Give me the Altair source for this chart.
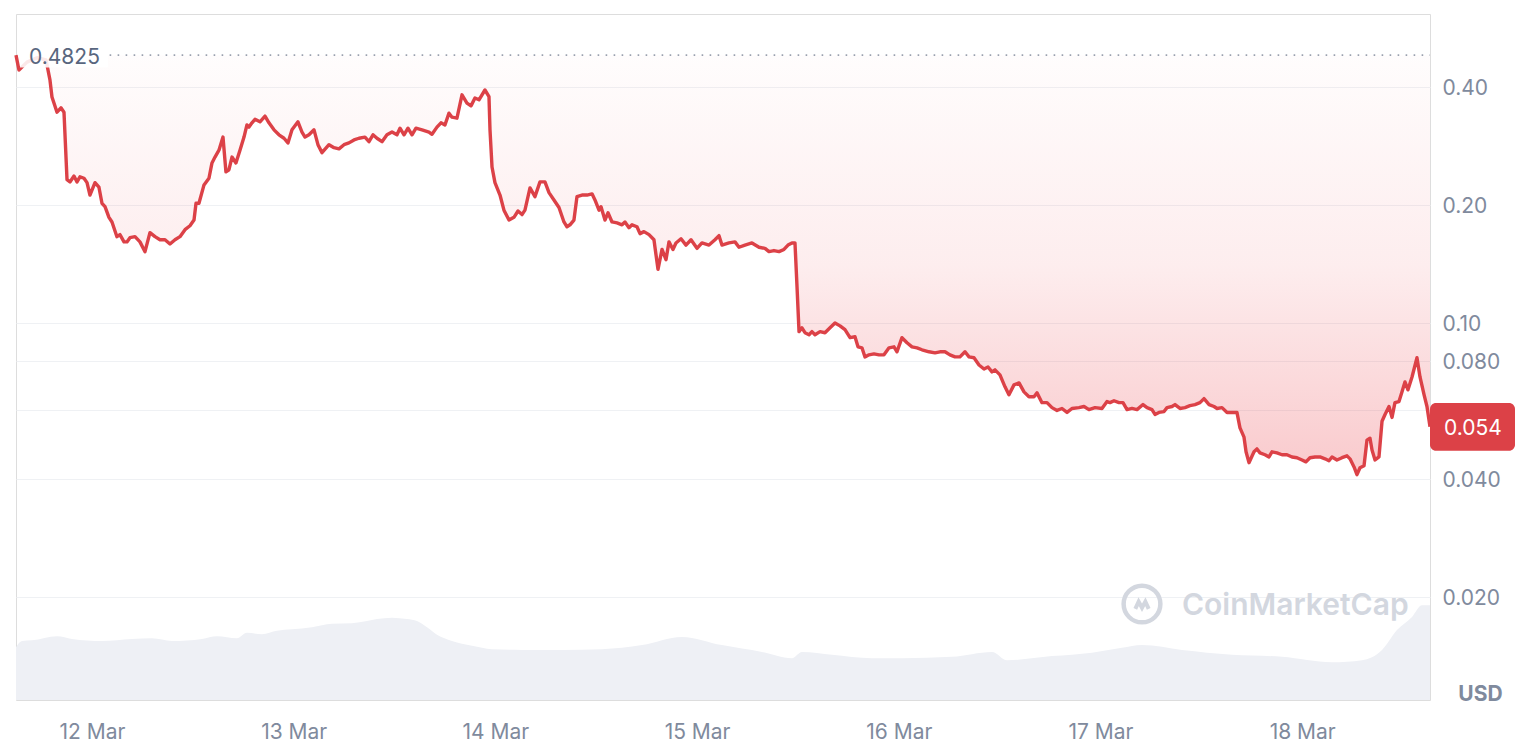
import altair as alt
import pandas as pd

# ---- data ----
# hours after 12 Mar 00:00 and price in USD
PRICE_HOURS = [
    -9.04, -8.69, -7.73, -6.54, -5.47, -5.0, -4.76, -4.16, -3.69, -3.33, -2.97, -2.62, -2.14, -1.78, -1.43,
    -0.95, -0.59, -0.24, 0.36, 0.83, 1.19, 1.55, 2.02, 2.38, 2.97, 3.33, 3.81, 4.16, 4.52, 5.12,
    5.71, 6.31, 6.90, 7.50, 8.09, 8.69, 9.28, 9.88, 10.47, 11.07, 11.66, 12.14, 12.38, 12.73, 13.33,
    13.92, 14.28, 14.64, 15.11, 15.59, 15.94, 16.30, 16.66, 17.13, 17.61, 18.09, 18.44, 18.68, 19.04, 19.40,
    19.99, 20.59, 21.06, 21.66, 22.25, 22.85, 23.32, 23.80, 24.51, 24.99, 25.35, 25.82, 26.42, 26.89, 27.37,
    28.20, 28.80, 29.39, 29.99, 30.58, 31.18, 31.77, 32.48, 32.96, 33.44, 33.91, 34.51, 35.10, 35.70, 36.29,
    36.65, 37.13, 37.60, 38.08, 38.55, 39.27, 40.10, 40.46, 41.05, 41.53, 42.00, 42.48, 42.84, 43.43, 44.03,
    44.62, 45.10, 45.57, 46.05, 46.76, 47.24, 47.36, 47.60, 47.95, 48.55, 49.02, 49.62, 50.21, 50.69, 51.17,
    51.52, 52.12, 52.71, 53.31, 53.90, 54.38, 54.97, 55.57, 56.16, 56.52, 56.88, 57.35, 57.71, 58.31, 58.90,
    59.50, 59.85, 60.33, 60.57, 61.04, 61.40, 61.88, 62.47, 63.07, 63.42, 63.90, 64.26, 64.85, 65.21, 65.68,
    66.28, 66.87, 66.99, 67.35, 67.83, 68.30, 68.66, 69.13, 69.49, 70.09, 70.68, 71.28, 71.99, 72.58, 73.42,
    74.13, 74.61, 74.96, 75.80, 76.51, 76.99, 77.70, 78.53, 79.37, 80.08, 80.56, 81.15, 81.75, 82.34, 82.82,
    83.29, 83.65, 83.89, 84.13, 84.48, 84.84, 85.32, 85.67, 86.03, 86.63, 87.22, 87.82, 88.41, 89.01, 89.60,
    90.20, 90.79, 91.15, 91.62, 91.98, 92.46, 93.05, 93.65, 94.24, 94.84, 95.43, 95.79, 96.38, 96.98, 97.57,
    98.17, 98.76, 99.60, 100.31, 100.90, 101.50, 102.09, 102.69, 103.28, 103.88, 104.36, 104.95, 105.55, 106.14, 106.62,
    107.09, 107.45, 108.04, 108.64, 109.11, 109.71, 110.31, 110.90, 111.49, 112.09, 112.45, 113.04, 113.64, 114.23, 114.83,
    115.42, 116.02, 116.61, 117.44, 118.04, 118.63, 119.35, 120.18, 120.78, 121.13, 121.61, 122.20, 122.68, 123.16, 123.75,
    124.35, 125.06, 125.54, 126.13, 126.49, 126.96, 127.56, 127.92, 128.51, 128.87, 129.46, 130.06, 130.65, 131.25, 131.84,
    132.32, 132.92, 133.51, 133.87, 134.46, 135.06, 135.65, 136.24, 136.60, 137.08, 137.32, 137.67, 138.27, 138.62, 138.98,
    139.58, 140.05, 140.41, 141.00, 141.60, 142.19, 142.79, 143.38, 143.98, 144.45, 144.93, 145.53, 146.12, 146.72, 147.19,
    147.55, 148.14, 148.74, 149.33, 149.69, 150.17, 150.52, 150.88, 151.36, 151.71, 152.07, 152.31, 152.67, 153.14, 153.50,
    153.86, 154.33, 154.69, 155.04, 155.52, 155.88, 156.23, 156.59, 157.07, 157.66, 158.02, 158.50, 158.85, 159.21,
]
PRICE_USD = [
    0.4825, 0.442, 0.463, 0.475, 0.469, 0.417, 0.377, 0.345, 0.354, 0.345, 0.232, 0.229, 0.237, 0.229, 0.236,
    0.234, 0.228, 0.212, 0.228, 0.222, 0.202, 0.198, 0.186, 0.181, 0.166, 0.168, 0.161, 0.161, 0.165, 0.166,
    0.161, 0.152, 0.170, 0.166, 0.163, 0.163, 0.159, 0.163, 0.166, 0.173, 0.177, 0.183, 0.202, 0.202, 0.225,
    0.234, 0.256, 0.265, 0.276, 0.298, 0.243, 0.246, 0.265, 0.256, 0.276, 0.298, 0.320, 0.316, 0.324, 0.331,
    0.326, 0.337, 0.324, 0.311, 0.302, 0.296, 0.288, 0.311, 0.326, 0.307, 0.298, 0.302, 0.311, 0.285, 0.272,
    0.285, 0.280, 0.278, 0.285, 0.288, 0.293, 0.296, 0.298, 0.290, 0.302, 0.296, 0.290, 0.302, 0.307, 0.302,
    0.314, 0.302, 0.314, 0.302, 0.314, 0.311, 0.307, 0.303, 0.316, 0.324, 0.320, 0.343, 0.335, 0.333, 0.382,
    0.364, 0.358, 0.375, 0.371, 0.393, 0.378, 0.311, 0.250, 0.228, 0.212, 0.194, 0.183, 0.186, 0.193, 0.189,
    0.194, 0.221, 0.210, 0.229, 0.229, 0.215, 0.206, 0.197, 0.181, 0.176, 0.178, 0.183, 0.210, 0.212, 0.212,
    0.2135, 0.206, 0.194, 0.198, 0.183, 0.191, 0.181, 0.180, 0.178, 0.181, 0.175, 0.178, 0.176, 0.169, 0.171,
    0.168, 0.163, 0.156, 0.137, 0.154, 0.145, 0.161, 0.154, 0.160, 0.164, 0.158, 0.163, 0.155, 0.160, 0.158,
    0.163, 0.167, 0.158, 0.160, 0.161, 0.156, 0.158, 0.160, 0.156, 0.155, 0.152, 0.153, 0.152, 0.154, 0.158,
    0.160, 0.160, 0.124, 0.0950, 0.0972, 0.0944, 0.0933, 0.0950, 0.0933, 0.0950, 0.0944, 0.0972, 0.100, 0.0983, 0.0961,
    0.0917, 0.0922, 0.0869, 0.0864, 0.0819, 0.0829, 0.0834, 0.0829, 0.0829, 0.0864, 0.0869, 0.0844, 0.0917, 0.0890, 0.0869,
    0.0864, 0.0854, 0.0844, 0.0839, 0.0844, 0.0844, 0.0829, 0.0819, 0.0819, 0.0844, 0.0819, 0.0815, 0.0781, 0.0763, 0.0772,
    0.0750, 0.0759, 0.0737, 0.0687, 0.0656, 0.0695, 0.0703, 0.0667, 0.0648, 0.0648, 0.0663, 0.0626, 0.0626, 0.0608, 0.0598,
    0.0605, 0.0591, 0.0605, 0.0608, 0.0612, 0.0601, 0.0608, 0.0605, 0.0630, 0.0626, 0.0633, 0.0626, 0.0626, 0.0601, 0.0605,
    0.0601, 0.0619, 0.0608, 0.0601, 0.0584, 0.0591, 0.0594, 0.0608, 0.0612, 0.0619, 0.0605, 0.0608, 0.0615, 0.0619, 0.0626,
    0.0641, 0.0619, 0.0612, 0.0605, 0.0608, 0.0591, 0.0591, 0.0591, 0.0540, 0.0511, 0.0469, 0.0440, 0.0469, 0.0477, 0.0466,
    0.0461, 0.0455, 0.0469, 0.0466, 0.0461, 0.0461, 0.0455, 0.0453, 0.0447, 0.0442, 0.0453, 0.0455, 0.0455, 0.0450, 0.0445,
    0.0455, 0.0447, 0.0453, 0.0458, 0.0450, 0.0429, 0.0410, 0.0427, 0.0432, 0.0502, 0.0508, 0.0474, 0.0447, 0.0455, 0.0561,
    0.0584, 0.0612, 0.0574, 0.0626, 0.0630, 0.0667, 0.0707, 0.0675, 0.0728, 0.0815, 0.0728, 0.0656, 0.0612, 0.0543,
]
# 24h volume (million USD) at hours after 12 Mar 00:00
VOL_HOURS = [
    -9.04, -8.33, -7.14, -4.16, -2.38, 1.19, 4.76, 7.14, 9.52, 13.09, 14.87, 17.25, 18.44, 20.23, 22.01,
    23.80, 26.18, 28.56, 30.94, 32.72, 33.91, 35.70, 37.48, 38.67, 39.86, 41.05, 42.84, 45.22, 47.60, 51.17,
    55.93, 60.69, 65.45, 70.20, 74.96, 79.72, 83.29, 84.48, 88.05, 92.81, 96.38, 102.33, 107.09, 108.88, 114.23,
    118.99, 122.56, 124.94, 129.70, 135.65, 141.60, 147.55, 151.12, 153.50, 155.28, 157.07, 158.26, 159.21,
]
VOL_MUSD = [
    7.7, 8.6, 8.7, 9.3, 8.9, 8.6, 8.9, 9.0, 8.6, 8.9, 9.3, 9.0, 9.8, 9.6, 10.1,
    10.3, 10.6, 11.1, 11.2, 11.5, 11.8, 12.0, 11.8, 11.5, 10.6, 9.5, 8.6, 7.9, 7.4, 7.3,
    7.3, 7.4, 8.0, 9.2, 8.0, 7.0, 6.1, 7.0, 6.6, 6.1, 6.1, 6.3, 7.0, 5.8, 6.4,
    6.9, 7.6, 8.0, 7.3, 6.6, 6.3, 5.5, 5.8, 7.3, 10.2, 12.1, 13.8, 13.8,
]
OPEN_PRICE = 0.4825
Y_TICKS = [0.02, 0.04, 0.06, 0.08, 0.1, 0.2, 0.4]
X_DAYS = [12, 13, 14, 15, 16, 17, 18]
WATERMARK = "CoinMarketCap"
UNIT = "USD"

RED = "#dc4147"
GRAY = "#808a9d"
FONT = "Inter"
FS = 21

base = pd.Timestamp("2024-03-12")


def ts(h):
    return (base + pd.to_timedelta(h, unit="h")).strftime("%Y-%m-%dT%H:%M:%S")


price_df = pd.DataFrame({
    "time": [ts(h) for h in PRICE_HOURS],
    "price": PRICE_USD,
    "open": OPEN_PRICE,
})
vol_df = pd.DataFrame({"time": [ts(h) for h in VOL_HOURS], "vol": VOL_MUSD})

last_price = PRICE_USD[-1]

x_scale = alt.Scale(nice=False)
y_scale = alt.Scale(type="log", domain=[0.01091, 0.6142], nice=False)

x_axis = alt.Axis(
    values=[alt.DateTime(year=2024, month=3, date=d) for d in X_DAYS],
    format="%-d %b", labelFontSize=FS, labelColor=GRAY, labelFont=FONT,
    labelPadding=21, domain=False, ticks=False, grid=False, labelFlush=False,
    title=None,
)
y_axis = alt.Axis(
    orient="right", values=Y_TICKS,
    labelExpr="datum.value >= 0.1 ? format(datum.value, '.2f') : (abs(datum.value - 0.06) < 0.001 ? '' : format(datum.value, '.3f'))",
    grid=True, gridColor="#eff1f4", gridWidth=1, domain=False, ticks=False,
    labelPadding=12, labelOffset=2, labelFontSize=FS, labelColor=GRAY, labelFont=FONT,
    title=UNIT, titleAngle=0, titleX=50, titleY=680, titleAlign="center",
    titleBaseline="middle", titleFontSize=FS, titleFontWeight=700,
    titleColor=GRAY, titleFont=FONT,
)


def X(field):
    return alt.X(field, type="temporal", scale=x_scale, axis=x_axis, title=None)


def Y(field):
    return alt.Y(field, type="quantitative", scale=y_scale, axis=y_axis, title=UNIT)


# volume (own scale)
volume = alt.Chart(vol_df).mark_area(color="#eef0f5", interpolate="monotone").encode(
    x=X("time"),
    y=alt.Y("vol:Q", scale=alt.Scale(domain=[0, 100]), axis=None),
)

gradient = alt.Gradient(
    gradient="linear",
    stops=[
        alt.GradientStop(color="rgba(234,57,67,0.01)", offset=0),
        alt.GradientStop(color="rgba(234,57,67,0.09)", offset=0.5),
        alt.GradientStop(color="rgba(234,57,67,0.27)", offset=1),
    ],
    x1=1, x2=1, y1=0, y2=1,
)

fill = alt.Chart(price_df).mark_area(color=gradient).encode(
    x=X("time"), y=Y("price"), y2="open:Q",
)

line = alt.Chart(price_df).mark_line(color=RED, strokeWidth=3.4, strokeJoin="round").encode(
    x=X("time"), y=Y("price"),
)

rule_df = pd.DataFrame({"t0": [ts(2.1)], "t1": [ts(PRICE_HOURS[-1])], "p": [OPEN_PRICE]})
open_rule = alt.Chart(rule_df).mark_rule(color="#9aa1af", strokeWidth=1.6, strokeDash=[1.6, 6.4]).encode(
    x=X("t0"), x2="t1:T", y=Y("p"),
)

lab_df = pd.DataFrame({"hi": [OPEN_PRICE * 1.075], "lo": [OPEN_PRICE / 1.075], "p": [OPEN_PRICE],
                       "txt": [f"{OPEN_PRICE:.4f}"]})
open_box = alt.Chart(lab_df).mark_rect(color="white", opacity=0.88).encode(
    x=alt.value(4), x2=alt.value(92), y=Y("hi"), y2="lo:Q",
)
open_text = alt.Chart(lab_df).mark_text(align="left", baseline="middle", fontSize=FS, dy=2.5,
                                          font=FONT, color="#58667e").encode(
    x=alt.value(13), y=Y("p"), text="txt:N",
)

cur_df = pd.DataFrame({"hi": [last_price * 1.151], "lo": [last_price / 1.151], "p": [last_price],
                       "txt": [f"{last_price:.3f}"]})
cur_box = alt.Chart(cur_df).mark_rect(color=RED, cornerRadius=6).encode(
    x=alt.value(1414), x2=alt.value(1499), y=Y("hi"), y2="lo:Q",
)
cur_text = alt.Chart(cur_df).mark_text(align="center", baseline="middle", fontSize=FS, dy=2,
                                         font=FONT, color="white").encode(
    x=alt.value(1457), y=Y("p"), text="txt:N",
)

wm_df = pd.DataFrame({"txt": [WATERMARK]})
wm_text = alt.Chart(wm_df).mark_text(align="left", baseline="middle", fontSize=30, fontWeight=600,
                                       font=FONT, color="#d3d7df").encode(
    x=alt.value(1166), y=alt.value(592), text="txt:N",
)
wm_ring = alt.Chart(wm_df).mark_point(shape="circle", filled=False, size=1350, strokeWidth=4.5,
                                        color="#d3d7df", opacity=1).encode(
    x=alt.value(1126), y=alt.value(590),
)
wm_m = alt.Chart(wm_df).mark_point(
    shape="M-0.6,0.35 L-0.3,-0.3 L0,0.25 L0.3,-0.3 L0.6,0.35", filled=False, size=500,
    strokeWidth=4, color="#d3d7df", opacity=1,
).encode(x=alt.value(1126), y=alt.value(591))

price_layers = alt.layer(fill, wm_ring, wm_m, wm_text, open_rule, line, open_box, open_text, cur_box, cur_text)

chart = alt.layer(volume, price_layers).resolve_scale(y="independent").properties(
    width=1414, height=686,
    padding={"left": 6, "top": 6, "right": 0, "bottom": 0},
).configure_view(stroke="#eceef2", strokeWidth=1).configure(background="white")

chart.save("out.html", embed_options={"renderer": "svg", "actions": False})
